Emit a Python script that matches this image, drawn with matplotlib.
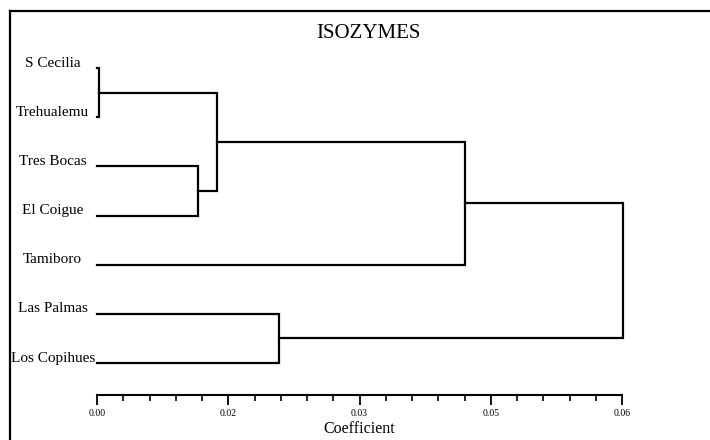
import matplotlib.pyplot as plt
from matplotlib.lines import Line2D
from matplotlib.ticker import MultipleLocator

plt.rcParams['font.family'] = ['Liberation Serif', 'DejaVu Serif']

labels = ["S Cecilia", "Trehualemu", "Tres Bocas", "El Coigue",
          "Tamiboro", "Las Palmas", "Los Copihues"]

# merges: (child a, child b, height); new clusters are numbered from 7 on
merges = [(0, 1, 0.0003),
          (2, 3, 0.0123),
          (7, 8, 0.0146),
          (9, 4, 0.0448),
          (5, 6, 0.0222),
          (10, 11, 0.0641)]

tick_values = [0.0, 0.016, 0.032, 0.048, 0.064]
tick_labels = ["0.00", "0.02", "0.03", "0.05", "0.06"]

fig = plt.figure(figsize=(7.1, 4.4), dpi=100)
ax = fig.add_axes([97 / 710, 1 - 395 / 440, 525 / 710, (395 - 50) / 440])

# node positions: (height, y)
nodes = {i: (0.0, i) for i in range(len(labels))}
for k, (a, b, h) in enumerate(merges):
    ha, ya = nodes[a]
    hb, yb = nodes[b]
    ax.plot([ha, h, h, hb], [ya, ya, yb, yb], color="black", lw=1.6,
            solid_joinstyle="miter", clip_on=False)
    nodes[len(labels) + k] = (h, (ya + yb) / 2)

for i, name in enumerate(labels):
    ax.text(-0.0054, i - 0.1, name, ha="center", va="center", fontsize=11)

ax.set_xlim(0, 0.064)
ax.set_ylim(6.65, -0.366)
ax.set_yticks([])
for s in ["top", "right", "left"]:
    ax.spines[s].set_visible(False)
ax.spines["bottom"].set_linewidth(1.5)
ax.set_xticks(tick_values)
ax.set_xticklabels(tick_labels, fontsize=7)
ax.xaxis.set_minor_locator(MultipleLocator(0.0032))
ax.tick_params(axis="x", which="major", length=7, width=1.3, pad=3)
ax.tick_params(axis="x", which="minor", length=4, width=1.2)
ax.set_xlabel("Coefficient", fontsize=11.5, labelpad=2)

fig.text(368 / 710, 1 - 33 / 440, "ISOZYMES", ha="center", va="center",
         fontsize=15)

# frame lines of the scanned figure
fig.add_artist(Line2D([10 / 710, 10 / 710], [0, 1 - 11 / 440],
                      transform=fig.transFigure, color="black", lw=1.6))
fig.add_artist(Line2D([10 / 710, 1], [1 - 11 / 440, 1 - 11 / 440],
                      transform=fig.transFigure, color="black", lw=1.6))

fig.savefig("out.png", dpi=100)
